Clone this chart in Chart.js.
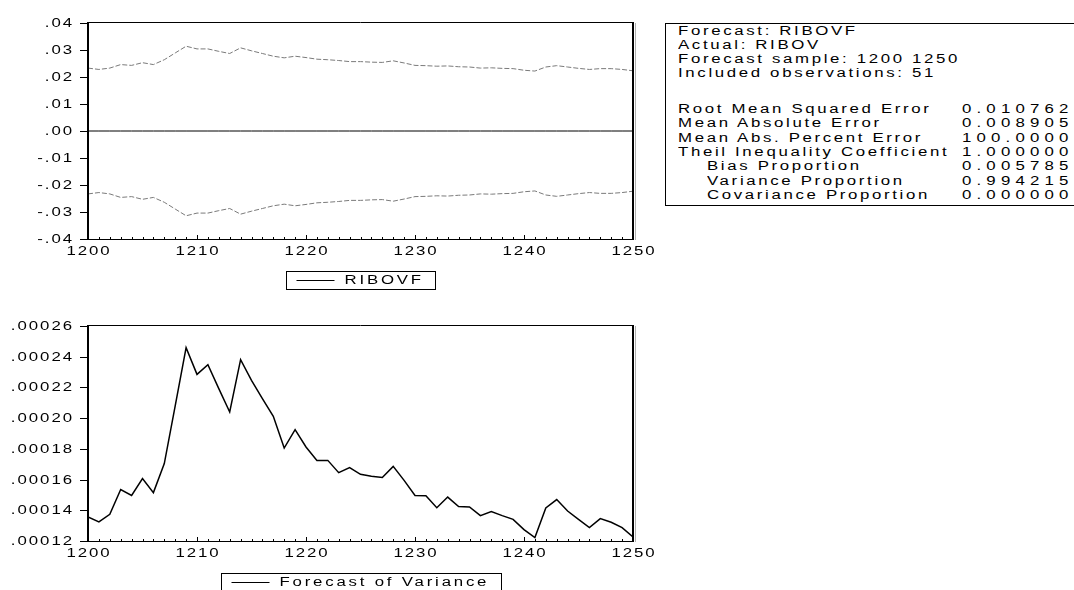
<!DOCTYPE html>
<html>
<head>
<meta charset="utf-8">
<script src="https://cdn.jsdelivr.net/npm/chart.js@4.4.1/dist/chart.umd.min.js"></script>
<style>
  html, body { margin: 0; padding: 0; background: #fff; overflow: hidden; }
  body { width: 1074px; height: 590px; position: relative; }
  canvas { position: absolute; left: 0; }
  #bandChart { top: 0; }
  #varChart { top: 300px; }
  #stats { position: absolute; left: 665px; top: 23px; width: 430px; height: 181px; border: 1px solid #000; }
  .row { position: absolute; white-space: nowrap; font: 12px "Liberation Sans", Arial, sans-serif;
         letter-spacing: 1.9px; transform: scaleX(1.4); transform-origin: 0 50%; line-height: 14px; color: #000; }
  .num { letter-spacing: 3.7px; }
</style>
</head>
<body>
<canvas id="bandChart" width="660" height="300"></canvas>
<canvas id="varChart" width="660" height="290"></canvas>
<div id="stats"></div>
<script>
// ====== DATA ======
const years = [1200,1201,1202,1203,1204,1205,1206,1207,1208,1209,1210,1211,1212,1213,1214,1215,1216,1217,1218,1219,
  1220,1221,1222,1223,1224,1225,1226,1227,1228,1229,1230,1231,1232,1233,1234,1235,1236,1237,1238,1239,
  1240,1241,1242,1243,1244,1245,1246,1247,1248,1249,1250];

// forecast RIBOVF (flat at zero)
const forecast = [0,0,0,0,0,0,0,0,0,0,0,0,0,0,0,0,0,0,0,0,0,0,0,0,0,0,0,0,0,0,0,0,0,0,0,0,0,0,0,0,0,0,0,0,0,0,0,0,0,0,0];

// upper / lower +-2 S.E. bands
const upperBand = [0.0233,0.0228,0.0233,0.0246,0.0243,0.0253,0.0246,0.0264,0.0289,0.0314,0.0304,0.0304,0.0295,0.0287,0.0308,
  0.0297,0.0287,0.0277,0.0271,0.0277,0.0272,0.0266,0.0264,0.0261,0.0257,0.0257,0.0255,0.0254,0.0260,0.0252,
  0.0243,0.0242,0.0240,0.0241,0.0238,0.0237,0.0233,0.0234,0.0232,0.0231,0.0225,0.0222,0.0237,0.0242,0.0237,
  0.0232,0.0228,0.0231,0.0231,0.0228,0.0223];
const lowerBand = [-0.0233,-0.0228,-0.0233,-0.0246,-0.0243,-0.0253,-0.0246,-0.0264,-0.0289,-0.0314,-0.0304,-0.0304,-0.0295,-0.0287,-0.0308,
  -0.0297,-0.0287,-0.0277,-0.0271,-0.0277,-0.0272,-0.0266,-0.0264,-0.0261,-0.0257,-0.0257,-0.0255,-0.0254,-0.0260,-0.0252,
  -0.0243,-0.0242,-0.0240,-0.0241,-0.0238,-0.0237,-0.0233,-0.0234,-0.0232,-0.0231,-0.0225,-0.0222,-0.0237,-0.0242,-0.0237,
  -0.0232,-0.0228,-0.0231,-0.0231,-0.0228,-0.0223];

// forecast of variance
const variance = [0.0001356,0.0001324,0.0001374,0.0001535,0.0001497,0.0001606,0.0001515,0.0001704,0.000208,0.0002459,
  0.0002285,0.0002348,0.0002192,0.000204,0.0002381,0.0002246,0.0002127,0.0002012,0.0001805,0.0001925,
  0.0001812,0.0001725,0.0001725,0.0001645,0.0001678,0.0001634,0.0001621,0.0001613,0.0001686,0.0001595,
  0.0001496,0.0001494,0.0001417,0.0001486,0.0001424,0.0001422,0.0001365,0.0001391,0.0001365,0.0001341,
  0.0001274,0.0001222,0.0001415,0.000147,0.0001395,0.0001341,0.0001287,0.0001346,0.0001322,0.0001287,0.0001226];

// tick labels
const xMajor = [1200,1210,1220,1230,1240,1250];
const bandTicks = [0.04,0.03,0.02,0.01,0,-0.01,-0.02,-0.03,-0.04];
const bandTickLabels = ['.04','.03','.02','.01','.00','-.01','-.02','-.03','-.04'];
const varTicks = [0.00026,0.00024,0.00022,0.00020,0.00018,0.00016,0.00014,0.00012];
const varTickLabels = ['.00026','.00024','.00022','.00020','.00018','.00016','.00014','.00012'];

// forecast evaluation table
const statHeader = ['Forecast: RIBOVF','Actual: RIBOV','Forecast sample: 1200 1250','Included observations: 51'];
const statNames = ['Root Mean Squared Error','Mean Absolute Error','Mean Abs. Percent Error','Theil Inequality Coefficient',
  'Bias Proportion','Variance Proportion','Covariance Proportion'];
const statIndent = [false,false,false,false,true,true,true];
const statValues = ['0.010762','0.008905','100.0000','1.000000','0.005785','0.994215','0.000000'];

// ====== STATS BOX ======
function buildStats() {
  const box = document.getElementById('stats');
  const add = (txt, x, cy, cls) => {
    const d = document.createElement('div');
    d.className = 'row' + (cls ? ' ' + cls : '');
    d.textContent = txt;
    d.style.left = (x - 666) + 'px';
    d.style.top = (cy - 24 - 7) + 'px';
    box.appendChild(d);
  };
  statHeader.forEach((t, i) => add(t, 678, 31 + i * 14));
  statNames.forEach((t, i) => {
    const cy = 109 + i * 14.3;
    add(t, statIndent[i] ? 707 : 678, cy);
    add(statValues[i], 962, cy, 'num');
  });
}
buildStats();

// ====== AXIS / LEGEND PLUGIN (EViews look) ======
const FONT = '12px "Liberation Sans", Arial, sans-serif';
function wideText(ctx, str, x, y, align, spacing) {
  ctx.save();
  ctx.font = FONT;
  ctx.letterSpacing = spacing || '1.4px';
  ctx.fillStyle = '#000';
  ctx.textBaseline = 'middle';
  ctx.textAlign = align;
  ctx.translate(x, y);
  ctx.scale(1.4, 1);
  ctx.fillText(str, 0, 0);
  ctx.restore();
}
function wideWidth(ctx, str, spacing) {
  ctx.save();
  ctx.font = FONT;
  ctx.letterSpacing = spacing;
  const w = ctx.measureText(str).width * 1.4;
  ctx.restore();
  return w;
}
function hline(ctx, x1, x2, y, w, c) {
  ctx.beginPath(); ctx.lineWidth = w; ctx.strokeStyle = c;
  ctx.moveTo(x1, y); ctx.lineTo(x2, y); ctx.stroke();
}
function vline(ctx, x, y1, y2, w, c) {
  ctx.beginPath(); ctx.lineWidth = w; ctx.strokeStyle = c;
  ctx.moveTo(x, y1); ctx.lineTo(x, y2); ctx.stroke();
}

const eviewsAxes = {
  id: 'eviewsAxes',
  afterDraw(chart, args, opts) {
    const ctx = chart.ctx;
    const a = chart.chartArea;
    const xs = chart.scales.x, ys = chart.scales.y;
    ctx.save();
    // frame
    hline(ctx, a.left, a.right, a.top - 0.5, 1, '#000');
    hline(ctx, a.left, a.right, a.bottom + 0.5, 1, '#000');
    vline(ctx, a.left, a.top - 1, a.bottom + 1, 2, '#000');
    vline(ctx, a.right, a.top - 1, a.bottom + 1, 2, '#000');
    vline(ctx, a.right + 2.5, a.top, a.bottom + 1, 1, '#b0b0b0');
    // y ticks + labels
    opts.yTicks.forEach((v, i) => {
      const py = Math.round(ys.getPixelForValue(v)) + 0.5;
      hline(ctx, a.left - 8, a.left, py, 1, '#000');
      wideText(ctx, opts.yLabels[i], a.left - 14, py, 'right');
    });
    // x minor/major ticks (inside) + labels
    years.forEach(yr => {
      const px = Math.round(xs.getPixelForValue(yr)) + 0.5;
      const major = xMajor.includes(yr);
      vline(ctx, px, a.bottom, a.bottom - (major ? 4 : 2), 1, '#000');
    });
    xMajor.forEach(yr => {
      wideText(ctx, String(yr), xs.getPixelForValue(yr) + 1, a.bottom + 13, 'center');
    });
    // boxed legend
    const ds = chart.data.datasets[opts.legendIndex];
    const tw = wideWidth(ctx, ds.label, '2px');
    const bw = 58 + tw + 12;
    const cx = (a.left + a.right) / 2;
    const bx = Math.round(cx - bw / 2) + 0.5;
    const by = opts.legendTop + 0.5;
    ctx.lineWidth = 1; ctx.strokeStyle = '#000';
    ctx.strokeRect(bx, by, Math.round(bw), 18);
    hline(ctx, bx + 10, bx + 48, by + 9, 1, '#000');
    wideText(ctx, ds.label, bx + 58, by + 9.5, 'left', '2px');
    ctx.restore();
  }
};

// ====== CHARTS ======
Chart.defaults.font.family = '"Liberation Sans", Arial, sans-serif';
const pts = arr => years.map((yr, i) => ({ x: yr, y: arr[i] }));

const hiddenScales = (ymin, ymax) => ({
  x: { type: 'linear', display: false, min: 1200, max: 1250 },
  y: { type: 'linear', display: false, min: ymin, max: ymax }
});

new Chart(document.getElementById('bandChart'), {
  type: 'line',
  data: {
    datasets: [
      { label: 'RIBOVF', data: pts(forecast), borderColor: '#000', borderWidth: 1, pointRadius: 0 },
      { label: 'upper', data: pts(upperBand), borderColor: '#7a7a7a', borderWidth: 1, borderDash: [5, 2], pointRadius: 0 },
      { label: 'lower', data: pts(lowerBand), borderColor: '#7a7a7a', borderWidth: 1, borderDash: [5, 2], pointRadius: 0 }
    ]
  },
  options: {
    responsive: false, animation: false, devicePixelRatio: 1,
    layout: { padding: { left: 88, right: 27, top: 23, bottom: 61 } },
    scales: hiddenScales(-0.04, 0.04),
    plugins: {
      legend: { display: false }, tooltip: { enabled: false },
      eviewsAxes: { yTicks: bandTicks, yLabels: bandTickLabels, legendIndex: 0, legendTop: 271 }
    }
  },
  plugins: [eviewsAxes]
});

new Chart(document.getElementById('varChart'), {
  type: 'line',
  data: {
    datasets: [
      { label: 'Forecast of Variance', data: pts(variance), borderColor: '#000', borderWidth: 1.5, pointRadius: 0 }
    ]
  },
  options: {
    responsive: false, animation: false, devicePixelRatio: 1,
    layout: { padding: { left: 88, right: 27, top: 26, bottom: 49 } },
    scales: hiddenScales(0.00012, 0.00026),
    plugins: {
      legend: { display: false }, tooltip: { enabled: false },
      eviewsAxes: { yTicks: varTicks, yLabels: varTickLabels, legendIndex: 0, legendTop: 273 }
    }
  },
  plugins: [eviewsAxes]
});
</script>
</body>
</html>
